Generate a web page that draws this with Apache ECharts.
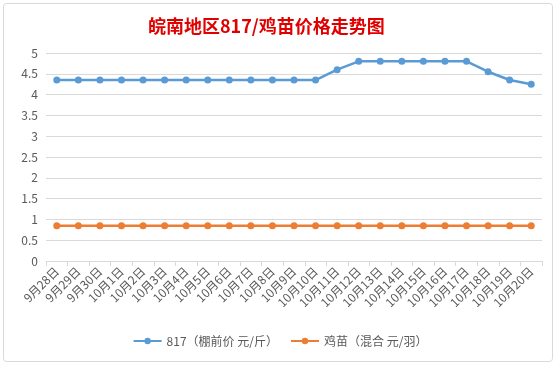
<!DOCTYPE html>
<html><head><meta charset="utf-8">
<script src="https://cdn.jsdelivr.net/npm/echarts@6/dist/echarts.min.js"></script>
<style>html,body{margin:0;padding:0;background:#fff}#c{width:560px;height:367px}</style>
</head><body><div id="c"></div>
<script>
const categories = ['9月28日','9月29日','9月30日','10月1日','10月2日','10月3日','10月4日','10月5日','10月6日','10月7日','10月8日','10月9日','10月10日','10月11日','10月12日','10月13日','10月14日','10月15日','10月16日','10月17日','10月18日','10月19日','10月20日'];
const price817 = [4.35,4.35,4.35,4.35,4.35,4.35,4.35,4.35,4.35,4.35,4.35,4.35,4.35,4.6,4.8,4.8,4.8,4.8,4.8,4.8,4.55,4.35,4.25];
const chickPrice = [0.85,0.85,0.85,0.85,0.85,0.85,0.85,0.85,0.85,0.85,0.85,0.85,0.85,0.85,0.85,0.85,0.85,0.85,0.85,0.85,0.85,0.85,0.85];
const seriesNames = ['817（棚前价 元/斤）','鸡苗（混合 元/羽）'];
const FONT = '"Noto Sans CJK SC", "Noto Sans", sans-serif';
const chart = echarts.init(document.getElementById('c'));
chart.setOption({
  backgroundColor: '#fff',
  animation: false,
  textStyle: {fontFamily: FONT},
  title: {text: '皖南地区817/鸡苗价格走势图', left: 143, top: 12,
    textStyle: {color: '#e00000', fontSize: 18, fontWeight: 'bold', fontFamily: FONT}},
  graphic: [{type: 'rect', shape: {x: 3.5, y: 3.5, width: 549, height: 358, r: 3},
    style: {fill: 'none', stroke: '#d9d9d9', lineWidth: 1}, silent: true}],
  grid: {left: 46, right: 18, top: 53, bottom: 106},
  legend: {bottom: 15, left: 'center', itemWidth: 28, itemHeight: 8, itemGap: 12,
    textStyle: {color: '#595959', fontSize: 12, fontFamily: FONT},
    data: seriesNames},
  xAxis: {type: 'category', data: categories, boundaryGap: true,
    axisLine: {lineStyle: {color: '#d9d9d9'}},
    axisTick: {show: true, length: 5, lineStyle: {color: '#d9d9d9'}, alignWithLabel: false},
    axisLabel: {rotate: 45, interval: 0, color: '#595959', fontSize: 12, margin: 8, fontFamily: FONT}},
  yAxis: {type: 'value', min: 0, max: 5, interval: 0.5,
    axisLine: {show: false}, axisTick: {show: false},
    splitLine: {lineStyle: {color: '#d9d9d9'}},
    axisLabel: {color: '#595959', fontSize: 12, margin: 8, fontFamily: FONT}},
  series: [
    {name: seriesNames[0], type: 'line', data: price817, symbol: 'circle', symbolSize: 7,
     itemStyle: {color: '#5b9bd5'}, lineStyle: {width: 2.5, color: '#5b9bd5'}},
    {name: seriesNames[1], type: 'line', data: chickPrice, symbol: 'circle', symbolSize: 7,
     itemStyle: {color: '#ed7d31'}, lineStyle: {width: 2.5, color: '#ed7d31'}}
  ]
});
</script></body></html>
